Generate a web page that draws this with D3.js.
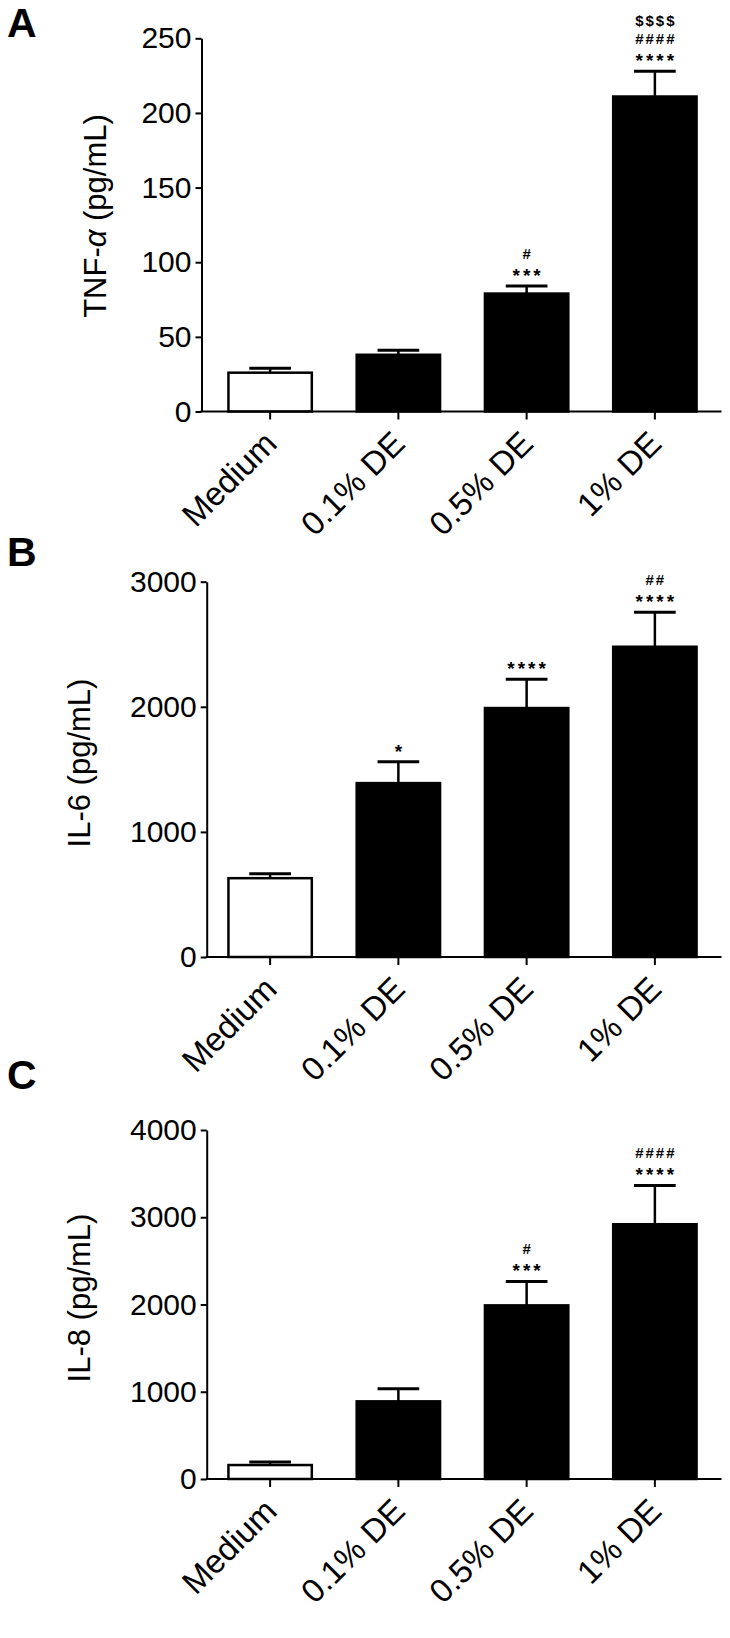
<!DOCTYPE html>
<head>
  <meta charset="utf-8">
  <style>
    body { margin: 0; background: #fff; }
    svg text { font-family: "Liberation Sans", Arial, sans-serif; fill: #000; }
    svg .domain, svg .tick line { stroke: #000; stroke-width: 2px; }
  </style>
</head>
<body>
<script src="https://d3js.org/d3.v7.min.js"></script>
<script>
  // categories shared by all three panels
  var categories = ["Medium", "0.1% DE", "0.5% DE", "1% DE"];

  // A: TNF-alpha
  var tnfMeans = [26, 38, 79, 211];
  var tnfErrors = [3, 3, 5, 17];
  var tnfTicks = [0, 50, 100, 150, 200, 250];
  var tnfMarks = [[], [], ["***", "#"], ["****", "####", "$$$$"]];

  // B: IL-6
  var il6Means = [630, 1390, 1990, 2480];
  var il6Errors = [35, 170, 230, 275];
  var il6Ticks = [0, 1000, 2000, 3000];
  var il6Marks = [[], ["*"], ["****"], ["****", "##"]];

  // C: IL-8
  var il8Means = [160, 890, 1990, 2920];
  var il8Errors = [35, 145, 275, 445];
  var il8Ticks = [0, 1000, 2000, 3000, 4000];
  var il8Marks = [[], [], ["***", "#"], ["****", "####"]];

  var panels = [
    { letter: "A", letterY: 37, label: ["TNF-", "α", " (pg/mL)"], labelX: 106, labelY: 216,
      means: tnfMeans, errors: tnfErrors, ticks: tnfTicks, marks: tnfMarks,
      axisX: 201.5, top: 38.3, base: 411.5 },
    { letter: "B", letterY: 566, label: ["IL-6 (pg/mL)"], labelX: 90, labelY: 763,
      means: il6Means, errors: il6Errors, ticks: il6Ticks, marks: il6Marks,
      axisX: 206.7, top: 581.7, base: 957 },
    { letter: "C", letterY: 1089, label: ["IL-8 (pg/mL)"], labelX: 90, labelY: 1298,
      means: il8Means, errors: il8Errors, ticks: il8Ticks, marks: il8Marks,
      axisX: 206.7, top: 1130, base: 1479 }
  ];

  var svg = d3.select("body")
    .append("svg")
      .attr("width", 730)
      .attr("height", 1638);

  panels.forEach(function (p) {
    var g = svg.append("g");
    var ymax = p.ticks[p.ticks.length - 1];

    var yScale = d3.scaleLinear().domain([0, ymax]).range([p.base, p.top]);
    var xScale = d3.scaleBand().domain(categories)
      .range([206, 719]).paddingInner(0.35).paddingOuter(0.175);
    var bw = xScale.bandwidth();

    // panel letter
    g.append("text")
      .attr("x", 7)
      .attr("y", p.letterY)
      .text(p.letter)
      .style("font-size", "41px")
      .style("font-weight", "bold");

    // y axis
    var yAxis = d3.axisLeft(yScale)
      .tickValues(p.ticks)
      .tickFormat(d3.format("d"))
      .tickSize(6)
      .tickPadding(4)
      .tickSizeOuter(0);

    var ya = g.append("g")
        .attr("transform", "translate(" + p.axisX + ",0)")
        .call(yAxis);
    ya.selectAll("text").style("font-size", "30px");

    // y axis title
    var lab = g.append("text")
        .attr("transform", "translate(" + p.labelX + "," + p.labelY + ") rotate(-90)")
        .style("text-anchor", "middle")
        .style("font-size", "31px");
    p.label.forEach(function (s) {
      var t = lab.append("tspan").text(s);
      if (s === "α") t.style("font-style", "italic");
    });

    // bars
    g.selectAll("rect.bar")
      .data(categories)
      .enter().append("rect")
        .attr("x", function (d) { return xScale(d); })
        .attr("y", function (d, i) { return yScale(p.means[i]); })
        .attr("width", bw)
        .attr("height", function (d, i) { return p.base - yScale(p.means[i]); })
        .style("fill", function (d, i) { return i === 0 ? "#fff" : "#000"; })
        .style("stroke", "#000")
        .style("stroke-width", "2.5px");

    // error bars (upper only)
    categories.forEach(function (c, i) {
      var cx = xScale(c) + bw / 2;
      var yTop = yScale(p.means[i] + p.errors[i]);
      g.append("line")
        .attr("x1", cx).attr("x2", cx)
        .attr("y1", yScale(p.means[i])).attr("y2", yTop)
        .style("stroke", "#000").style("stroke-width", "2.5px");
      g.append("line")
        .attr("x1", cx - bw / 4).attr("x2", cx + bw / 4)
        .attr("y1", yTop).attr("y2", yTop)
        .style("stroke", "#000").style("stroke-width", "3px");

      // significance marks, bottom row first
      p.marks[i].forEach(function (s, k) {
        var star = s.charAt(0) === "*";
        var fs = star ? 19 : 15;
        var center = yTop - 15 - 18 * k;
        g.append("text")
          .attr("x", cx + (star ? 1.5 : 1))
          .attr("y", center + (star ? 0.58 : 0.36) * fs)
          .text(s)
          .style("text-anchor", "middle")
          .style("font-size", fs + "px")
          .style("font-weight", "bold")
          .style("letter-spacing", star ? "3px" : "2px");
      });
    });

    // x axis
    g.append("line")
      .attr("x1", p.axisX - 1).attr("x2", 721.5)
      .attr("y1", p.base).attr("y2", p.base)
      .style("stroke", "#000").style("stroke-width", "2px");

    var xAxis = d3.axisBottom(xScale).tickSize(8).tickSizeOuter(0);
    var xa = g.append("g")
        .attr("transform", "translate(0," + p.base + ")")
        .call(xAxis);
    xa.select(".domain").remove();
    xa.selectAll("text")
      .attr("x", 0)
      .attr("y", 0)
      .attr("dy", 0)
      .attr("transform", "translate(8.5,34) rotate(-45)")
      .style("text-anchor", "end")
      .style("font-size", "33px");
  });
</script>
</body>
</html>
